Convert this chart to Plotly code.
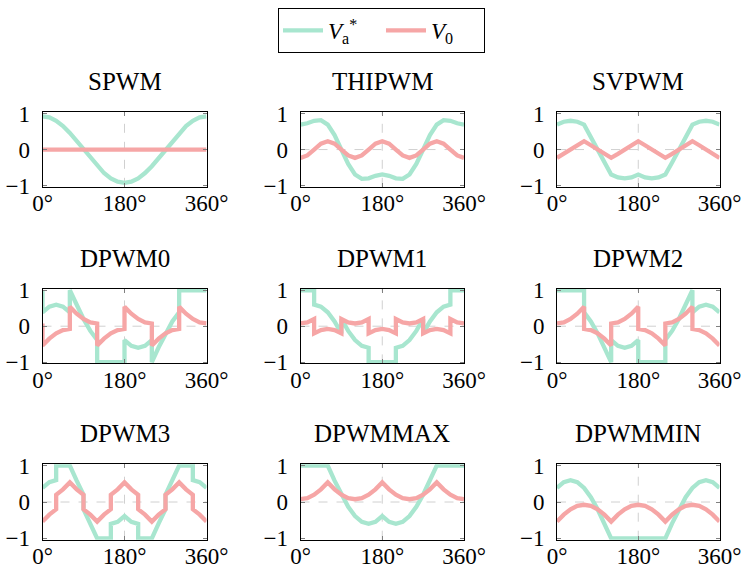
import plotly.graph_objects as go

# ---------------- data ----------------
TITLES = ["SPWM", "THIPWM", "SVPWM",
          "DPWM0", "DPWM1", "DPWM2",
          "DPWM3", "DPWMMAX", "DPWMMIN"]

X_TICKS = [0, 180, 360]
X_TICK_TEXT = ["0°", "180°", "360°"]
Y_TICKS = [-1, 0, 1]
Y_TICK_TEXT = ["−1", "0", "1"]

# angle grids (degrees)
ANG = [0, 15, 30, 45, 60, 75, 90, 105, 120, 135, 150, 165, 180,
       195, 210, 225, 240, 255, 270, 285, 300, 315, 330, 345, 360]
ANG_DPWM0 = [0, 0, 15, 30, 45, 60, 60, 75, 90, 105, 120, 120, 135, 150, 165, 180,
             180, 195, 210, 225, 240, 240, 255, 270, 285, 300, 300, 315, 330, 345, 360]
ANG_DPWM13 = [0, 15, 30, 30, 45, 60, 75, 90, 90, 105, 120, 135, 150, 150, 165, 180,
              195, 210, 210, 225, 240, 255, 270, 270, 285, 300, 315, 330, 330, 345, 360]
ANG_DPWM2 = [0, 15, 30, 45, 60, 60, 75, 90, 105, 120, 120, 135, 150, 165, 180,
             180, 195, 210, 225, 240, 240, 255, 270, 285, 300, 300, 315, 330, 345, 360]

SPWM_VA = [0.924, 0.893, 0.800, 0.653, 0.462, 0.239, 0, -0.239, -0.462, -0.653, -0.800, -0.893, -0.924,
           -0.893, -0.800, -0.653, -0.462, -0.239, 0, 0.239, 0.462, 0.653, 0.800, 0.893, 0.924]
SPWM_V0 = [0, 0, 0, 0, 0, 0, 0, 0, 0, 0, 0, 0, 0,
           0, 0, 0, 0, 0, 0, 0, 0, 0, 0, 0, 0]

THIPWM_VA = [0.693, 0.730, 0.800, 0.816, 0.693, 0.402, 0, -0.402, -0.693, -0.816, -0.800, -0.730, -0.693,
             -0.730, -0.800, -0.816, -0.693, -0.402, 0, 0.402, 0.693, 0.816, 0.800, 0.730, 0.693]
THIPWM_V0 = [-0.231, -0.163, 0, 0.163, 0.231, 0.163, 0, -0.163, -0.231, -0.163, 0, 0.163, 0.231,
             0.163, 0, -0.163, -0.231, -0.163, 0, 0.163, 0.231, 0.163, 0, -0.163, -0.231]

SVPWM_VA = [0.693, 0.773, 0.800, 0.773, 0.693, 0.359, 0, -0.359, -0.693, -0.773, -0.800, -0.773, -0.693,
            -0.773, -0.800, -0.773, -0.693, -0.359, 0, 0.359, 0.693, 0.773, 0.800, 0.773, 0.693]
SVPWM_V0 = [-0.231, -0.120, 0, 0.120, 0.231, 0.120, 0, -0.120, -0.231, -0.120, 0, 0.120, 0.231,
            0.120, 0, -0.120, -0.231, -0.120, 0, 0.120, 0.231, 0.120, 0, -0.120, -0.231]

DPWM0_VA = [1, 0.386, 0.546, 0.600, 0.546, 0.386, 1, 0.586, 0.200, -0.132, -0.386,
            -1, -1, -1, -1, -1, -0.386, -0.546, -0.600, -0.546, -0.386,
            -1, -0.586, -0.200, 0.132, 0.386, 1, 1, 1, 1, 1]
DPWM0_V0 = [0.076, -0.538, -0.347, -0.200, -0.107, -0.076, 0.538, 0.347, 0.200, 0.107, 0.076,
            -0.538, -0.347, -0.200, -0.107, -0.076, 0.538, 0.347, 0.200, 0.107, 0.076,
            -0.538, -0.347, -0.200, -0.107, -0.076, 0.538, 0.347, 0.200, 0.107, 0.076]

DPWM1_VA = [1, 1, 1, 0.600, 0.546, 0.386, 0.132, -0.200, 0.200, -0.132, -0.386, -0.546, -0.600,
            -1, -1, -1, -1, -1, -0.600, -0.546, -0.386, -0.132, 0.200,
            -0.200, 0.132, 0.386, 0.546, 0.600, 1, 1, 1]
DPWM1_V0 = [0.076, 0.107, 0.200, -0.200, -0.107, -0.076, -0.107, -0.200, 0.200, 0.107, 0.076, 0.107, 0.200,
            -0.200, -0.107, -0.076, -0.107, -0.200, 0.200, 0.107, 0.076, 0.107, 0.200,
            -0.200, -0.107, -0.076, -0.107, -0.200, 0.200, 0.107, 0.076]

DPWM2_VA = [1, 1, 1, 1, 1, 0.386, 0.132, -0.200, -0.586, -1, -0.386, -0.546, -0.600, -0.546, -0.386,
            -1, -1, -1, -1, -1, -0.386, -0.132, 0.200, 0.586, 1, 0.386, 0.546, 0.600, 0.546, 0.386]
DPWM2_V0 = [0.076, 0.107, 0.200, 0.347, 0.538, -0.076, -0.107, -0.200, -0.347, -0.538,
            0.076, 0.107, 0.200, 0.347, 0.538, -0.076, -0.107, -0.200, -0.347, -0.538,
            0.076, 0.107, 0.200, 0.347, 0.538, -0.076, -0.107, -0.200, -0.347, -0.538]

DPWM3_VA = [0.386, 0.546, 0.600, 1, 1, 1, 0.586, 0.200, -0.200, -0.586, -1, -1, -1,
            -0.600, -0.546, -0.386, -0.546, -0.600, -1, -1, -1, -0.586, -0.200,
            0.200, 0.586, 1, 1, 1, 0.600, 0.546, 0.386]
DPWM3_V0 = [-0.538, -0.347, -0.200, 0.200, 0.347, 0.538, 0.347, 0.200, -0.200, -0.347, -0.538, -0.347, -0.200,
            0.200, 0.347, 0.538, 0.347, 0.200, -0.200, -0.347, -0.538, -0.347, -0.200,
            0.200, 0.347, 0.538, 0.347, 0.200, -0.200, -0.347, -0.538]

DPWMMAX_VA = [1, 1, 1, 1, 1, 0.586, 0.200, -0.132, -0.386, -0.546, -0.600, -0.546, -0.386,
              -0.546, -0.600, -0.546, -0.386, -0.132, 0.200, 0.586, 1, 1, 1, 1, 1]
DPWMMAX_V0 = [0.076, 0.107, 0.200, 0.347, 0.538, 0.347, 0.200, 0.107, 0.076, 0.107, 0.200, 0.347, 0.538,
              0.347, 0.200, 0.107, 0.076, 0.107, 0.200, 0.347, 0.538, 0.347, 0.200, 0.107, 0.076]

DPWMMIN_VA = [0.386, 0.546, 0.600, 0.546, 0.386, 0.132, -0.200, -0.586, -1, -1, -1, -1, -1,
              -1, -1, -1, -1, -0.586, -0.200, 0.132, 0.386, 0.546, 0.600, 0.546, 0.386]
DPWMMIN_V0 = [-0.538, -0.347, -0.200, -0.107, -0.076, -0.107, -0.200, -0.347, -0.538, -0.347, -0.200, -0.107, -0.076,
              -0.107, -0.200, -0.347, -0.538, -0.347, -0.200, -0.107, -0.076, -0.107, -0.200, -0.347, -0.538]

PANELS = [
    (ANG, SPWM_VA, ANG, SPWM_V0),
    (ANG, THIPWM_VA, ANG, THIPWM_V0),
    (ANG, SVPWM_VA, ANG, SVPWM_V0),
    (ANG_DPWM0, DPWM0_VA, ANG_DPWM0, DPWM0_V0),
    (ANG_DPWM13, DPWM1_VA, ANG_DPWM13, DPWM1_V0),
    (ANG_DPWM2, DPWM2_VA, ANG_DPWM2, DPWM2_V0),
    (ANG_DPWM13, DPWM3_VA, ANG_DPWM13, DPWM3_V0),
    (ANG, DPWMMAX_VA, ANG, DPWMMAX_V0),
    (ANG, DPWMMIN_VA, ANG, DPWMMIN_V0),
]

# ---------------- style / layout ----------------
W, H = 742, 568
GREEN = "#A8E6CF"
PINK = "#F6A6A6"
FONT = "Liberation Serif"
FS_TICK = 23
FS_TITLE = 25

COL_PX = [(42.5, 206.5), (300.5, 464.0), (557.0, 719.5)]
ROW_PX = [(112.3, 186.8), (289.0, 363.4), (464.3, 539.7)]
XDOM = [(a / W, b / W) for a, b in COL_PX]
YDOM = [(1 - b / H, 1 - a / H) for a, b in ROW_PX]

fig = go.Figure()
shapes = []
annotations = []
for k, (xa, va, x0, v0) in enumerate(PANELS):
    r, c = divmod(k, 3)
    sfx = "" if k == 0 else str(k + 1)
    fig.add_trace(go.Scatter(
        x=xa, y=va, mode="lines", line=dict(color=GREEN, width=4.3),
        name="<i>V</i><sub>a</sub><sup>*</sup>", legendgroup="va", showlegend=(k == 0),
        xaxis="x" + sfx, yaxis="y" + sfx))
    fig.add_trace(go.Scatter(
        x=x0, y=v0, mode="lines", line=dict(color=PINK, width=4.3),
        name="<i>V</i><sub>0</sub>", legendgroup="v0", showlegend=(k == 0),
        xaxis="x" + sfx, yaxis="y" + sfx))
    common = dict(showline=True, linecolor="black", linewidth=1, mirror="ticks",
                  ticks="inside", ticklen=4, tickwidth=1, tickcolor="#808080",
                  showgrid=False, zeroline=False, automargin=False,
                  ticklabeloverflow="allow",
                  tickfont=dict(family=FONT, size=FS_TICK, color="black"))
    fig.layout["xaxis" + sfx] = dict(domain=XDOM[c], anchor="y" + sfx, range=[0, 360],
                                     tickmode="array", tickvals=X_TICKS, ticktext=X_TICK_TEXT,
                                     ticklabelstandoff=-4, **common)
    fig.layout["yaxis" + sfx] = dict(domain=YDOM[r], anchor="x" + sfx, range=[-1.035, 1.035],
                                     tickmode="array", tickvals=Y_TICKS, ticktext=Y_TICK_TEXT,
                                     ticklabelstandoff=7, **common)
    shapes.append(dict(type="line", xref="x" + sfx, yref="y" + sfx + " domain",
                       x0=180, x1=180, y0=0, y1=1, layer="below",
                       line=dict(color="#d0d0d0", width=1, dash="dash")))
    shapes.append(dict(type="line", xref="x" + sfx + " domain", yref="y" + sfx,
                       x0=0, x1=1, y0=0, y1=0, layer="below",
                       line=dict(color="#d0d0d0", width=1, dash="dash")))
    annotations.append(dict(text=TITLES[k], showarrow=False,
                            xref="x" + sfx + " domain", yref="y" + sfx + " domain",
                            x=0.5, y=1, xanchor="center", yanchor="bottom", yshift=15,
                            font=dict(family=FONT, size=FS_TITLE, color="black")))

fig.update_layout(
    width=W, height=H, margin=dict(l=0, r=0, t=0, b=0, autoexpand=False),
    paper_bgcolor="white", plot_bgcolor="white",
    shapes=shapes, annotations=annotations,
    showlegend=True,
    legend=dict(orientation="h", x=381.5 / W, xanchor="center", y=1 - 8 / H, yanchor="top",
                bordercolor="black", borderwidth=1, bgcolor="white",
                itemwidth=40, entrywidth=48, entrywidthmode="pixels",
                font=dict(family=FONT, size=23, color="black")),
)

fig.write_html("out.html")
